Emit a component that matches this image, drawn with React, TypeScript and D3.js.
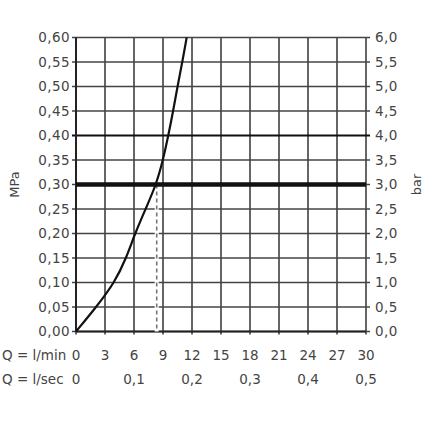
import React from "react";
import * as d3 from "d3";

const flowLpm = [0, 2.1, 4.0, 5.2, 6.1, 7.2, 8.3, 9.0, 9.55, 10.05, 10.5, 11.0, 11.45];
const pressureMPa = [0, 0.05, 0.1, 0.15, 0.2, 0.25, 0.3, 0.35, 0.4, 0.45, 0.5, 0.55, 0.6];
const xTicksLpm = [0, 3, 6, 9, 12, 15, 18, 21, 24, 27, 30];
const xTicksLps = [
  { q: 0, label: "0" },
  { q: 6, label: "0,1" },
  { q: 12, label: "0,2" },
  { q: 18, label: "0,3" },
  { q: 24, label: "0,4" },
  { q: 30, label: "0,5" },
];
const yTicksMPa = [0, 0.05, 0.1, 0.15, 0.2, 0.25, 0.3, 0.35, 0.4, 0.45, 0.5, 0.55, 0.6];
const yTicksBar = [0, 0.5, 1, 1.5, 2, 2.5, 3, 3.5, 4, 4.5, 5, 5.5, 6];
const markFlow = 8.35;
const markPressure = 0.3;

export default function App() {
  const W = 424, H = 424;
  const x = d3.scaleLinear().domain([0, 30]).range([76, 366]);
  const y = d3.scaleLinear().domain([0, 0.6]).range([331.5, 37.5]);
  const yBar = d3.scaleLinear().domain([0, 6]).range([331.5, 37.5]);
  const line = d3
    .line<number>()
    .x((_, i) => x(flowLpm[i]))
    .y((d) => y(d))
    .curve(d3.curveBasis);
  const fmt = (v: number, n: number) => v.toFixed(n).replace(".", ",");
  const font = "'DejaVu Sans', sans-serif";
  const tc = "#444";
  return (
    <svg width={W} height={H} style={{ position: "absolute", left: 0, top: 0, background: "#fff" }}>
      <rect x={0} y={0} width={W} height={H} fill="#fff" />
      {xTicksLpm.map((t) => (
        <line key={"vx" + t} x1={x(t)} x2={x(t)} y1={y(0.6)} y2={y(0) + 3} stroke="#333" strokeWidth={1.5} />
      ))}
      {yTicksMPa.map((t) => (
        <line
          key={"hy" + t}
          x1={x(0) - 4}
          x2={x(30) + 4}
          y1={y(t)}
          y2={y(t)}
          stroke={Math.abs(t - 0.4) < 1e-9 ? "#111" : "#444"}
          strokeWidth={Math.abs(t - 0.4) < 1e-9 ? 2 : 1.5}
        />
      ))}
      <line x1={x(0)} x2={x(0)} y1={y(0.6)} y2={y(0)} stroke="#222" strokeWidth={2} />
      <line x1={x(0)} x2={x(30)} y1={y(0)} y2={y(0)} stroke="#222" strokeWidth={2} />
      <line x1={x(markFlow)} x2={x(markFlow)} y1={y(markPressure)} y2={y(0)} stroke="#fff" strokeWidth={4} />
      <line x1={x(markFlow)} x2={x(markFlow)} y1={y(markPressure)} y2={y(0)} stroke="#777" strokeWidth={1.6} strokeDasharray="4,3" />
      <line x1={x(0)} x2={x(30)} y1={y(markPressure)} y2={y(markPressure)} stroke="#111" strokeWidth={4.5} />
      <path d={line(pressureMPa) || ""} fill="none" stroke="#111" strokeWidth={2.2} />
      {yTicksMPa.map((t) => (
        <text key={"ly" + t} x={70} y={y(t)} dy="0.35em" textAnchor="end" fontFamily={font} fontSize={13.5} fill={tc} letterSpacing={0.4}>
          {fmt(t, 2)}
        </text>
      ))}
      {yTicksBar.map((t) => (
        <text key={"ry" + t} x={375} y={yBar(t)} dy="0.35em" textAnchor="start" fontFamily={font} fontSize={13.5} fill={tc} letterSpacing={0.4}>
          {fmt(t, 1)}
        </text>
      ))}
      <text transform={`translate(19,${y(0.3)}) rotate(-90)`} textAnchor="middle" fontFamily={font} fontSize={13} fill={tc}>
        MPa
      </text>
      <text transform={`translate(421,${y(0.3)}) rotate(-90)`} textAnchor="middle" fontFamily={font} fontSize={13} fill={tc}>
        bar
      </text>
      <text x={2} y={360} fontFamily={font} fontSize={13.5} fill={tc}>Q = l/min</text>
      <text x={2} y={384} fontFamily={font} fontSize={13.5} fill={tc}>Q = l/sec</text>
      {xTicksLpm.map((t) => (
        <text key={"bx" + t} x={x(t)} y={360} textAnchor="middle" fontFamily={font} fontSize={13.5} fill={tc}>
          {t}
        </text>
      ))}
      {xTicksLps.map((d) => (
        <text key={"bs" + d.q} x={x(d.q)} y={384} textAnchor="middle" fontFamily={font} fontSize={13.5} fill={tc}>
          {d.label}
        </text>
      ))}
    </svg>
  );
}
